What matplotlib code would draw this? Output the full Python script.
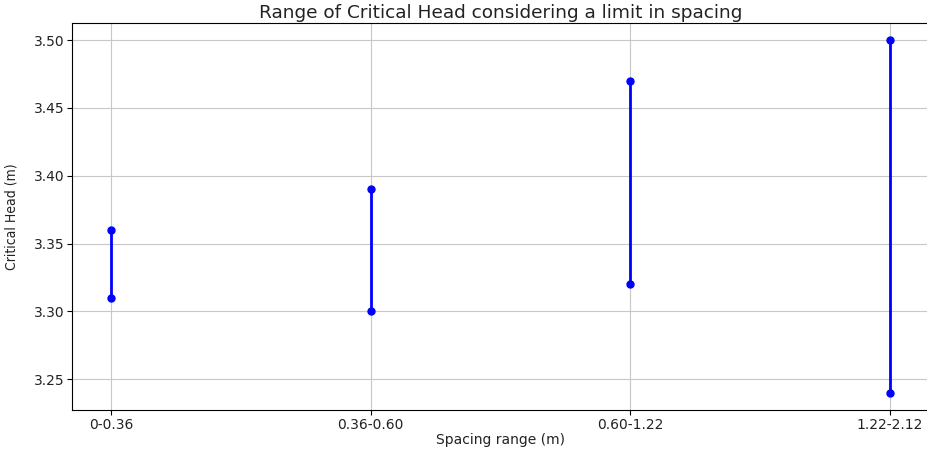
import matplotlib
matplotlib.use("Agg")
from matplotlib import pyplot as plt

spacing = ['0-0.36', '0.36-0.60', '0.60-1.22', '1.22-2.12']
head_min = [3.31, 3.30, 3.32, 3.24]
head_max = [3.36, 3.39, 3.47, 3.50]

fig = plt.figure(figsize=(9.27, 4.5), dpi=100)
ax = fig.add_axes([0.078, 0.088, 0.924, 0.862])

for i, name in enumerate(spacing):
    ax.plot([name, name], [head_min[i], head_max[i]], color='blue', linewidth=2,
            marker='o', markersize=5)

ax.set_ylim(3.227, 3.513)
ax.set_yticks([3.25, 3.30, 3.35, 3.40, 3.45, 3.50])
ax.grid(True, color='#c8c8c8')
ax.set_axisbelow(True)
ax.set_title('Range of Critical Head considering a limit in spacing', fontsize=13.3, color='#222222', pad=3)
ax.set_xlabel('Spacing range (m)', fontsize=10, labelpad=1, color='#222222')
ax.set_ylabel('Critical Head (m)', fontsize=10, labelpad=11, color='#222222',
              family=['DejaVu Sans Condensed', 'Liberation Sans Narrow', 'DejaVu Sans'],
              fontstretch='condensed')
ax.tick_params(labelsize=10, pad=2, labelcolor='#222222')

fig.savefig('out.png', dpi=100)
